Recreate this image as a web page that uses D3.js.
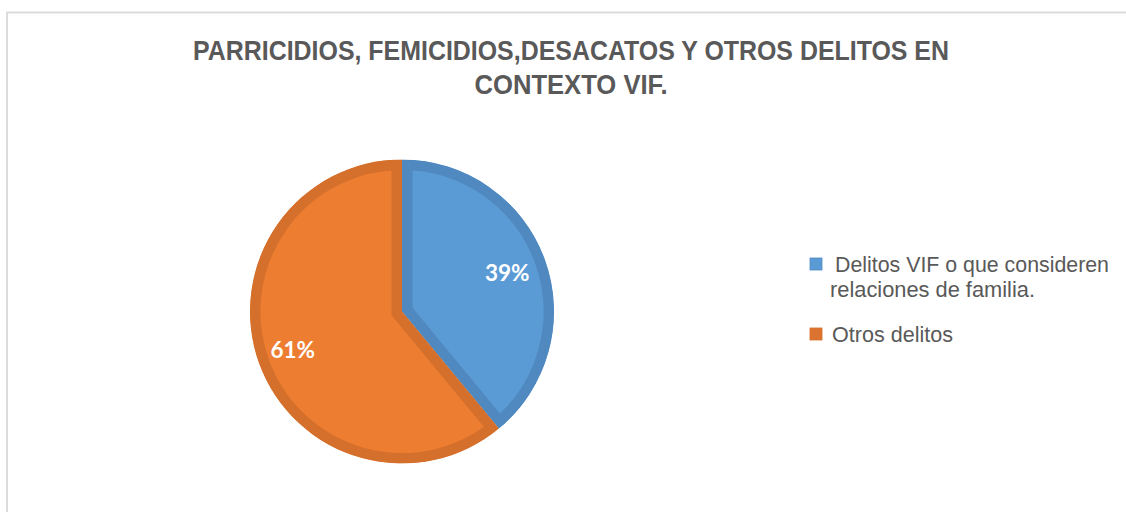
<!DOCTYPE html>
<meta charset="utf-8">
<html lang="es">
<style>
    body { margin: 0; background: #fff; }
    .title { font-family: "Liberation Sans Narrow", "Arial Narrow", "Liberation Sans", sans-serif; font-weight: bold; fill: #595959; }
    .legend text { font-family: "Liberation Sans Narrow", "Arial Narrow", "Liberation Sans", sans-serif; fill: #595959; }
    .pct { font-family: Lato, "Open Sans", sans-serif; font-weight: bold; fill: #fff; }
</style>
<head>
    <script src="https://d3js.org/d3.v7.min.js"></script>
</head>
<body>
<svg width="1126" height="512"></svg>
<script>

    var categories = ["Delitos VIF o que consideren relaciones de familia.", "Otros delitos"];
    var values = [39, 61];
    var labels = ["39%", "61%"];
    var legendLines = [["Delitos VIF o que consideren", "relaciones de familia."], ["Otros delitos"]];
    var titleLines = ["PARRICIDIOS, FEMICIDIOS,DESACATOS Y OTROS DELITOS EN", "CONTEXTO VIF."];

    var fills = ["#5B9BD5", "#ED7D31"];
    var borders = ["#4F89C0", "#D5702C"];

    var svg = d3.select("svg");

    // chart frame
    svg.append("rect")
        .attr("x", 7).attr("y", 12.5)
        .attr("width", 1140).attr("height", 520)
        .attr("fill", "none")
        .attr("stroke", "#d9d9d9")
        .attr("stroke-width", 1.8);

    // title
    var titleWidths = [756, 193];
    svg.selectAll(".title")
        .data(titleLines)
        .enter().append("text")
        .attr("class", "title")
        .attr("x", 571)
        .attr("y", function (d, i) { return 60 + i * 33.5; })
        .attr("text-anchor", "middle")
        .style("font-size", "28.5px")
        .attr("textLength", function (d, i) { return titleWidths[i]; })
        .attr("lengthAdjust", "spacingAndGlyphs")
        .text(function (d) { return d; });

    // pie
    var cx = 402, cy = 311.5, radius = 152;
    var pie = d3.pie().sort(null).value(function (d) { return d; });
    var arc = d3.arc().innerRadius(0).outerRadius(radius);
    var labelArc = d3.arc().innerRadius(114).outerRadius(114);

    var g = svg.append("g").attr("transform", "translate(" + cx + "," + cy + ")");
    var arcs = pie(values);

    var defs = svg.append("defs");
    arcs.forEach(function (d, i) {
        defs.append("clipPath").attr("id", "clip" + i)
            .append("path").attr("d", arc(d));
    });

    g.selectAll(".slice")
        .data(arcs)
        .enter().append("path")
        .attr("class", "slice")
        .attr("d", arc)
        .attr("clip-path", function (d, i) { return "url(#clip" + i + ")"; })
        .attr("fill", function (d, i) { return fills[i]; })
        .attr("stroke", function (d, i) { return borders[i]; })
        .attr("stroke-width", 21)
        .attr("stroke-linejoin", "miter");

    g.selectAll(".pct")
        .data(arcs)
        .enter().append("text")
        .attr("class", "pct")
        .attr("transform", function (d) {
            var c = labelArc.centroid(d);
            return "translate(" + (c[0] - 2) + "," + (c[1] + 8) + ")";
        })
        .attr("text-anchor", "middle")
        .style("font-size", "22.5px")
        .text(function (d, i) { return labels[i]; });

    // legend
    var legendY = [258, 328];
    var legend = svg.selectAll(".legend")
        .data(categories)
        .enter().append("g")
        .attr("class", "legend");

    legend.append("rect")
        .attr("x", 810)
        .attr("y", function (d, i) { return legendY[i]; })
        .attr("width", 12).attr("height", 12)
        .attr("fill", function (d, i) { return i === 0 ? "#5B9BD5" : "#DD7330"; })
        .attr("stroke", function (d, i) { return borders[i]; })
        .attr("stroke-width", 0.8);

    var legendWidths = [[274, 205], [121]];
    var legendX = [[835, 830], [832]];
    legend.each(function (d, i) {
        d3.select(this).selectAll("text")
            .data(legendLines[i])
            .enter().append("text")
            .attr("x", function (t, j) { return legendX[i][j]; })
            .attr("y", function (t, j) { return legendY[i] + 14 + j * 25; })
            .attr("textLength", function (t, j) { return legendWidths[i][j]; })
            .attr("lengthAdjust", "spacingAndGlyphs")
            .style("font-size", "22px")
            .text(function (t) { return t; });
    });

</script>
</body>
</html>
